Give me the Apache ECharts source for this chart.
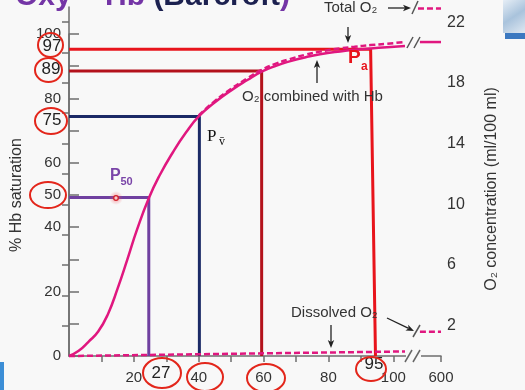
<!DOCTYPE html>
<html>
<head>
<meta charset="utf-8">
<script src="https://cdn.jsdelivr.net/npm/echarts@6.0.0/dist/echarts.min.js"></script>
<style>
html,body{margin:0;padding:0;background:#f8f8f8;}
#chart{width:525px;height:390px;}
</style>
</head>
<body>
<div id="chart"></div>
<script>
// Position on the compressed PO2 axis that stands for 600 mmHg (after the axis break)
const po2At600 = 114.7;

// Oxygen–haemoglobin dissociation curve (PO2 mmHg, % Hb saturation)
const po2 = [0, 3, 6, 9, 12, 15, 18, 21, 24.7, 28, 32, 36, 40, 45, 50, 55, 59.4, 64, 68, 73, 77.4, 83.6, 88, 93, 98, 103.6];
const hbSaturation = [0, 1.6, 4.4, 7.6, 13, 21, 30, 39.3, 49.2, 56.2, 63.2, 69.3, 74.4, 78.8, 82.5, 85.7, 88.3, 90.2, 91.5, 92.8, 93.7, 94.6, 95.1, 95.5, 95.9, 96.3];
const hbAfterBreakPo2 = [108.2, po2At600];
const hbAfterBreakSat = [97.5, 97.5];

// Total O2 content (ml/100 ml), dashed
const totalPo2 = [40, 45, 50, 55, 59.4, 64, 68, 73, 77.4, 83.6, 88, 93, 98, 103.6];
const totalO2 = [15.86, 16.81, 17.61, 18.3, 18.86, 19.28, 19.56, 19.86, 20.06, 20.27, 20.38, 20.49, 20.58, 20.69];
const totalAfterBreakPo2 = [107.6, po2At600];
const totalAfterBreakO2 = [22.9, 22.9];

// Dissolved O2 (ml/100 ml), dashed
const dissolvedPo2 = [0, 103.6];
const dissolvedO2 = [0, 0.3];
const dissolvedAfterBreakPo2 = [108.2, po2At600];
const dissolvedAfterBreakO2 = [1.6, 1.6];

// Reference levels: Pa (97 %), 89 %, Pv (75 %), P50 (50 %)
const levelSat = [95.3, 88.5, 74.4, 49.2];
const levelPo2Top = [93.0, 59.4, 40.2, 24.6];
const levelPo2Base = [94.5, 59.4, 40.2, 24.6];
const levelColors = ['#e8141c', '#b3121c', '#1b2a66', '#7040a0'];

// Axis ticks and labels
const xTickValues = [10, 20, 30, 40, 50, 60, 70, 80, 90, 100, po2At600];
const xLabelValues = [20, 40, 60, 80, 100, po2At600];
const yTickValues = [0, 10, 20, 30, 40, 50, 60, 70, 80, 90, 100];
const yLabelValues = [0, 20, 40, 50, 60, 80, 100];
const rTickValues = [2, 4, 6, 8, 10, 12, 14, 16, 18, 20, 22];
const rLabelValues = [2, 6, 10, 14, 18, 22];

const FONT = '"Liberation Sans", Arial, Helvetica, sans-serif';
const SERIF = '"Liberation Serif", "DejaVu Serif", serif';
const BG = '#f8f8f8';
const AXIS = '#6e6e6e';
const MAG = '#e0177f';

const zip = (a, b) => a.map((v, i) => [v, b[i]]);

const series = [];
levelSat.forEach((s, i) => {
  series.push({
    type: 'line', xAxisIndex: 0, yAxisIndex: 0, symbol: 'none', clip: false, z: 2,
    data: [[0, s], [levelPo2Top[i], s], [levelPo2Base[i], 0]],
    lineStyle: { color: levelColors[i], width: 3 }
  });
});
series.push({
  type: 'line', xAxisIndex: 1, yAxisIndex: 1, symbol: 'none', clip: false, z: 3,
  smooth: 0.5,
  data: zip(totalPo2, totalO2),
  lineStyle: { color: MAG, width: 2.5, type: [6, 3] }
});
series.push({
  type: 'line', xAxisIndex: 1, yAxisIndex: 1, symbol: 'none', clip: false, z: 3,
  data: zip(totalAfterBreakPo2, totalAfterBreakO2),
  lineStyle: { color: MAG, width: 2.5, type: [6, 3] }
});
series.push({
  type: 'line', xAxisIndex: 1, yAxisIndex: 1, symbol: 'none', clip: false, z: 3,
  data: zip(dissolvedPo2, dissolvedO2),
  lineStyle: { color: MAG, width: 2.5, type: [6, 3] }
});
series.push({
  type: 'line', xAxisIndex: 1, yAxisIndex: 1, symbol: 'none', clip: false, z: 3,
  data: zip(dissolvedAfterBreakPo2, dissolvedAfterBreakO2),
  lineStyle: { color: MAG, width: 2.5, type: [6, 3] }
});
series.push({
  type: 'line', xAxisIndex: 0, yAxisIndex: 0, symbol: 'none', clip: false, z: 4,
  smooth: 0.5,
  data: zip(po2, hbSaturation),
  lineStyle: { color: MAG, width: 2.5 }
});
series.push({
  type: 'line', xAxisIndex: 0, yAxisIndex: 0, symbol: 'none', clip: false, z: 4,
  data: zip(hbAfterBreakPo2, hbAfterBreakSat),
  lineStyle: { color: MAG, width: 2.5 }
});

// ---------- annotations ----------
const G = [];
function text(x, y, t, font, fill, align, va) {
  G.push({ type: 'text', z: 100, style: { x, y, text: t, font, fill,
    textAlign: align || 'left', textVerticalAlign: va || 'middle',
    align: align || 'left', verticalAlign: va || 'middle' } });
}
function seg(x1, y1, x2, y2, stroke, lw) {
  G.push({ type: 'line', z: 100, shape: { x1, y1, x2, y2 }, style: { stroke, lineWidth: lw } });
}
function arrow(x1, y1, x2, y2) {
  const a = Math.atan2(y2 - y1, x2 - x1), L = 8, W = 3.2;
  const c = Math.cos(a), s = Math.sin(a);
  const bx = x2 - L * c, by = y2 - L * s;
  seg(x1, y1, bx + 2 * c, by + 2 * s, '#222', 1.3);
  G.push({ type: 'polygon', z: 100, shape: { points: [[x2, y2], [bx - W * s, by + W * c], [bx + 2 * c, by + 2 * s], [bx + W * s, by - W * c]] }, style: { fill: '#222' } });
}
function ring(cx, cy, rx, ry) {
  G.push({ type: 'ellipse', z: 101, shape: { cx, cy, rx, ry }, style: { fill: 'none', stroke: '#e3261b', lineWidth: 2 } });
}

// title (cut off at top)
G.push({ type: 'text', z: 100, x: 15, y: -3, style: {
  text: '{p|Oxy – Hb }{n|(Barcroft}{p|)}',
  verticalAlign: 'middle', textVerticalAlign: 'middle',
  rich: {
    p: { fill: '#7435a6', textFill: '#7435a6', fontSize: 30, fontWeight: 'bold', fontFamily: FONT },
    n: { fill: '#1c2150', textFill: '#1c2150', fontSize: 30, fontWeight: 'bold', fontFamily: FONT }
  } } });

// decorations from the slide
G.push({ type: 'rect', z: 90, shape: { x: 503, y: 0, width: 22, height: 33 }, style: { fill: new echarts.graphic.LinearGradient(0, 0, 1, 1, [{ offset: 0, color: '#e6eef6' }, { offset: 0.5, color: '#a9c3dc' }, { offset: 1, color: '#dfe8f2' }]) } });
G.push({ type: 'rect', z: 90, shape: { x: 505, y: 33, width: 20, height: 6 }, style: { fill: '#3b78c0' } });
G.push({ type: 'rect', z: 90, shape: { x: 0, y: 362, width: 4, height: 28 }, style: { fill: '#3c8ed6' } });

// axis breaks
G.push({ type: 'rect', z: 99, shape: { x: 406, y: 352, width: 15, height: 8 }, style: { fill: BG } });
seg(405, 362, 412, 350, '#666', 1.5);
seg(413, 362, 420, 350, '#666', 1.5);
seg(407, 48, 413, 37, '#555', 1.5);
seg(414, 48, 420, 37, '#555', 1.5);
seg(412, 14, 418, 1, '#555', 1.5);
seg(413, 337, 420, 325, '#555', 1.5);

// text labels
text(324, 8, 'Total O₂', '15px ' + FONT, '#333');
arrow(388, 8, 411, 8);
arrow(348, 27, 348, 43);
text(242, 97, 'O₂ combined with Hb', '15px ' + FONT, '#333');
arrow(317, 83, 317, 60);
text(291, 313, 'Dissolved O₂', '15px ' + FONT, '#333');
arrow(331, 325, 331, 348);
arrow(387, 318, 414, 331);

text(348, 58, 'P', 'bold 19px ' + FONT, '#e8141c');
text(361, 67, 'a', 'bold 12px ' + FONT, '#e8141c');
text(207, 137, 'P', '17px ' + SERIF, '#111');
text(219, 142, 'v̄', '12px ' + SERIF, '#111');
text(110, 176, 'P', 'bold 16px ' + FONT, '#7a45a8');
text(120.5, 182, '50', 'bold 11px ' + FONT, '#7a45a8');

// laser-pointer dot
G.push({ type: 'circle', z: 100, shape: { cx: 116, cy: 198, r: 7 }, style: { fill: new echarts.graphic.RadialGradient(0.5, 0.5, 0.5, [{ offset: 0, color: 'rgba(240,80,90,0.55)' }, { offset: 1, color: 'rgba(240,80,90,0)' }]) } });
G.push({ type: 'circle', z: 101, shape: { cx: 116, cy: 198, r: 2.3 }, style: { fill: '#f8c8c8', stroke: '#d0202a', lineWidth: 1.3 } });

// circled numbers
text(52, 46, '97', '17px ' + FONT, '#222', 'center');
text(51, 69, '89', '17px ' + FONT, '#222', 'center');
text(52, 120, '75', '17px ' + FONT, '#222', 'center');
text(161, 373, '27', '17px ' + FONT, '#222', 'center');
text(374, 364, '95', '17px ' + FONT, '#222', 'center');
ring(50.5, 45, 12.5, 12);
ring(48.5, 70, 13.5, 12);
ring(51, 121, 16, 13);
ring(48, 195, 18, 13);
ring(162, 373, 19, 15);
ring(205, 377, 18, 14);
ring(266, 378, 19, 14);
ring(371, 369, 15, 12);

// right axis title
G.push({ type: 'text', z: 100, x: 492, y: 189, rotation: Math.PI / 2, style: { x: 0, y: 0, text: 'O₂ concentration (ml/100 ml)', font: '16px ' + FONT, fill: '#333', textAlign: 'center', textVerticalAlign: 'middle', align: 'center', verticalAlign: 'middle' } });

const chart = echarts.init(document.getElementById('chart'));
chart.setOption({
  animation: false,
  backgroundColor: BG,
  grid: [
    { left: 69, right: 84, top: 34, bottom: 34 },
    { left: 69, right: 84, top: 7, bottom: 34 }
  ],
  xAxis: [
    { gridIndex: 0, type: 'value', min: 0, max: po2At600,
      axisLine: { show: true, lineStyle: { color: AXIS, width: 1.5 } },
      axisTick: { show: true, customValues: xTickValues, length: 6, lineStyle: { color: AXIS, width: 1.5 } },
      axisLabel: { customValues: xLabelValues, fontSize: 15, color: '#333', fontFamily: FONT, margin: 14,
        formatter: v => (v >= po2At600 - 0.01 ? '600' : String(v)) },
      splitLine: { show: false } },
    { gridIndex: 1, type: 'value', min: 0, max: po2At600, show: false }
  ],
  yAxis: [
    { gridIndex: 0, type: 'value', min: 0, max: 100, position: 'left',
      axisLine: { show: true, lineStyle: { color: AXIS, width: 1.5 } },
      axisTick: { show: true, inside: true, customValues: yTickValues, length: 10, lineStyle: { color: AXIS, width: 1.5 } },
      axisLabel: { customValues: yLabelValues, fontSize: 15, color: '#333', fontFamily: FONT, margin: 8 },
      splitLine: { show: false },
      name: '% Hb saturation', nameLocation: 'middle', nameRotate: 90, nameGap: 42,
      nameTextStyle: { fontSize: 16, color: '#333', fontFamily: FONT } },
    { gridIndex: 1, type: 'value', min: 0, max: 23, position: 'right',
      axisLine: { show: true, lineStyle: { color: AXIS, width: 1.5 } },
      axisTick: { show: true, inside: true, customValues: rTickValues, length: 7, lineStyle: { color: AXIS, width: 1.5 } },
      axisLabel: { customValues: rLabelValues, fontSize: 16, color: '#333', fontFamily: FONT, margin: 6 },
      splitLine: { show: false } }
  ],
  series,
  graphic: { elements: G }
});
</script>
</body>
</html>
